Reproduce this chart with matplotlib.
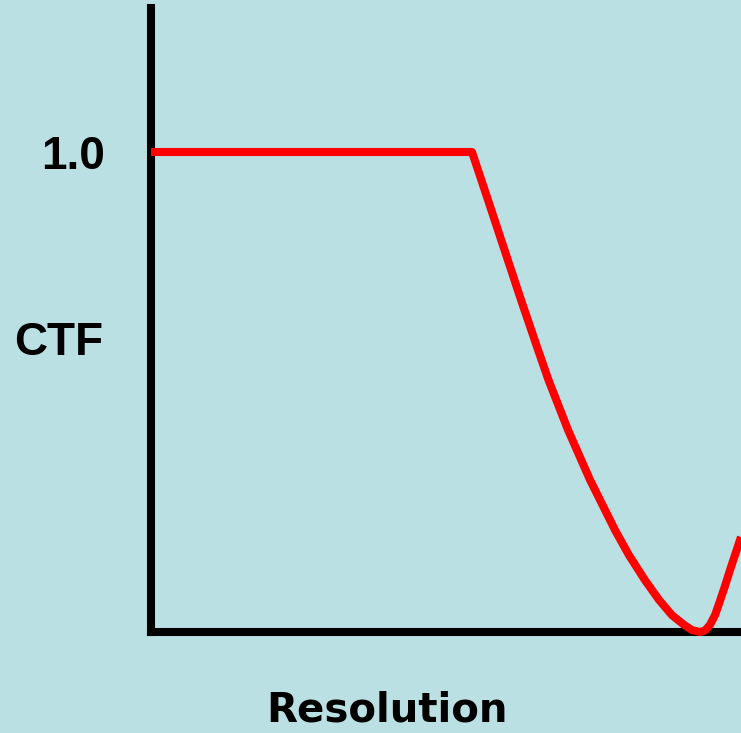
import numpy as np
import matplotlib
matplotlib.use("Agg")
from matplotlib import pyplot as plt

# CTF curve (resolution in arbitrary units, CTF 0..1)
resolution = [0.00, 3.21, 3.37, 3.535, 3.70, 3.87, 3.975, 4.17, 4.39, 4.64, 4.78, 4.94,
              5.08, 5.21, 5.33, 5.41, 5.49, 5.54, 5.59, 5.64, 5.69, 5.74, 5.79, 5.90]
ctf = [1.000, 1.000, 0.900, 0.796, 0.692, 0.588, 0.525, 0.421, 0.317, 0.2125, 0.160, 0.108,
       0.067, 0.035, 0.015, 0.004, 0.000, 0.003, 0.015, 0.035, 0.065, 0.096, 0.129, 0.198]
ytick_values = [1.0]
ytick_labels = ["1.0"]

bg = "#BAE0E3"
W, H = 741, 733

fig = plt.figure(figsize=(W / 100, H / 100), dpi=100, facecolor=bg)
ax = fig.add_axes([151 / W, 101 / H, (W - 151) / W, 624 / H])
ax.set_facecolor(bg)

ax.plot(resolution, ctf, color="#FF0000", linewidth=5.8, solid_joinstyle="round",
        solid_capstyle="butt", clip_on=False, zorder=5)

ax.set_xlim(0, 5.9)
ax.set_ylim(0, 1.3)

for s in ["top", "right"]:
    ax.spines[s].set_visible(False)
for s in ["left", "bottom"]:
    ax.spines[s].set_linewidth(5.8)
    ax.spines[s].set_color("black")

ax.set_xticks([])
ax.set_yticks(ytick_values)
ax.set_yticklabels(ytick_labels, fontsize=33, fontweight="bold", family="Liberation Sans")
ax.tick_params(axis="y", length=0, pad=33)

fig.text(103 / W, 1 - 355 / H, "CTF", ha="right", va="baseline",
         fontsize=33, fontweight="bold", family="Liberation Sans")
fig.text(387 / W, 1 - 721 / H, "Resolution", ha="center", va="baseline",
         fontsize=29, fontweight="bold", family="DejaVu Sans")

fig.savefig("out.png", dpi=100, facecolor=bg)
